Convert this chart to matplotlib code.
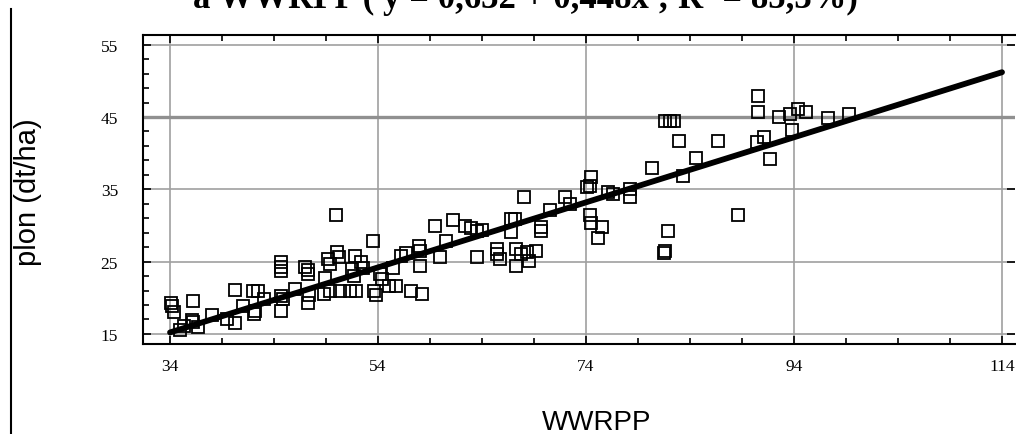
import numpy as np
import matplotlib
matplotlib.use("Agg")
import matplotlib.pyplot as plt
from matplotlib.lines import Line2D

# scatter points (WWRPP, yield dt/ha)
wwrpp = [34.1, 34.2, 34.4, 36.2, 35.0, 35.3, 36.2, 36.7, 36.1, 40.25, 39.5, 40.25,
         42.0, 42.5, 42.1, 42.2, 44.7, 44.7, 44.7, 44.7, 44.9, 44.7, 47.0, 47.3,
         47.3, 47.4, 47.3, 48.9, 49.2, 49.4, 50.1, 50.2, 50.0, 48.8, 49.4, 50.3,
         51.3, 51.9, 51.8, 52.4, 51.5, 51.7, 53.5, 53.6, 53.8, 54.2, 54.4, 55.1,
         55.7, 55.4, 56.7, 57.9, 58.0, 58.0, 57.2, 58.2, 59.5, 61.2, 62.4, 62.9,
         63.5, 60.0, 63.5, 65.4, 65.4, 65.7, 67.3, 67.7, 67.3, 68.3, 68.5, 69.2,
         66.8, 66.8, 67.2, 68.0, 72.0, 69.7, 69.7, 74.5, 74.4, 74.1, 74.4, 74.5,
         75.5, 75.2, 76.1, 76.6, 78.2, 78.2, 81.6, 82.1, 82.5, 82.9, 86.7, 84.6,
         80.3, 83.3, 81.9, 81.5, 81.6, 88.6, 90.5, 90.5, 92.6, 93.6, 94.4, 95.2,
         93.8, 90.4, 91.1, 91.7, 97.3, 99.3,
         38.0, 41.0, 43.0, 46.0, 52.6, 56.2, 60.5, 64.0, 70.5, 72.5]
plon = [19.3, 18.8, 18.0, 19.6, 15.5, 16.1, 16.6, 15.9, 16.9, 21.1, 17.0, 16.5,
        20.9, 20.9, 17.8, 18.1, 24.9, 24.3, 23.7, 20.3, 19.8, 18.1, 24.3, 23.8,
        23.3, 20.4, 19.3, 22.8, 25.4, 24.7, 26.3, 25.6, 31.5, 20.5, 21.0, 21.0,
        20.9, 20.9, 25.8, 25.0, 24.0, 23.0, 27.8, 20.9, 20.4, 23.3, 22.6, 21.6,
        21.6, 24.1, 26.2, 27.2, 26.5, 24.4, 20.9, 20.5, 29.9, 30.8, 29.9, 29.6,
        29.3, 25.6, 25.7, 26.8, 26.1, 25.4, 26.8, 26.1, 24.4, 26.3, 25.1, 26.5,
        30.9, 29.1, 30.9, 34.0, 34.0, 29.8, 29.3, 36.7, 35.5, 35.3, 31.4, 30.4,
        29.8, 28.2, 34.6, 34.4, 35.1, 33.9, 44.5, 44.5, 44.5, 41.7, 41.7, 39.4,
        37.9, 36.8, 29.2, 26.2, 26.4, 31.5, 47.9, 45.7, 45.0, 45.4, 46.1, 45.7,
        43.2, 41.5, 42.2, 39.2, 44.9, 45.4,
        17.6, 18.9, 19.8, 21.2, 24.1, 25.8, 27.8, 29.4, 32.1, 33.0]

# fitted line end points
fit_x = [34, 114]
fit_y = [15.2, 51.2]

x_major = [34, 54, 74, 94, 114]
x_minor = np.arange(34, 116, 5)
y_major = [15, 25, 35, 45, 55]
y_minor = np.arange(15, 56, 2)
thick_y = 45

title = "a WWRPP ( y = 0,632 + 0,448x ; R² = 85,3%)"

fig = plt.figure(figsize=(10.16, 4.35), dpi=100)
ax = fig.add_axes([143 / 1016, 1 - 345 / 435, 872 / 1016, 309 / 435])

ax.set_xlim(31.4, 115.25)
ax.set_ylim(13.6, 56.35)

ax.set_xticks(x_major)
ax.set_xticks(x_minor, minor=True)
ax.set_yticks(y_major)
ax.set_yticks(y_minor, minor=True)
ax.grid(True, which="major", color="#a0a0a0", linewidth=1.2)
ax.axhline(thick_y, color="#909090", linewidth=2.4, zorder=0.6)
ax.set_axisbelow(True)

ax.tick_params(which="both", direction="in", top=True, right=True, color="black")
ax.tick_params(axis="y", which="minor", right=False)
ax.tick_params(which="major", length=6, width=1.2)
ax.tick_params(which="minor", length=4, width=1.2)
ax.tick_params(axis="x", which="major", pad=10)
ax.tick_params(axis="y", which="major", pad=18)
for lab in ax.get_xticklabels() + ax.get_yticklabels():
    lab.set_family("Liberation Serif")
    lab.set_fontsize(12.5)

for side in ["top", "left", "bottom"]:
    ax.spines[side].set_linewidth(1.5)
ax.spines["right"].set_visible(False)

ax.plot(wwrpp, plon, linestyle="none", marker="s", markersize=9,
        markerfacecolor="none", markeredgecolor="black", markeredgewidth=1.3)
ax.plot(fit_x, fit_y, color="black", linewidth=4.2, solid_capstyle="round")

fig.text(597 / 1016, 1 - 423 / 435, "WWRPP", family="Liberation Sans",
         fontsize=20, ha="center", va="center")
fig.text(28 / 1016, 1 - 192 / 435, "plon (dt/ha)", family="Liberation Sans",
         fontsize=21, rotation=90, ha="center", va="center")
fig.text(525 / 1016, 1 - 8 / 435, title, family="Liberation Serif",
         fontweight="bold", fontsize=25, ha="center", va="baseline")

fig.add_artist(Line2D([11 / 1016, 11 / 1016], [0, 1 - 10 / 435],
                      color="black", linewidth=1.5))

fig.savefig("out.png", dpi=100)
